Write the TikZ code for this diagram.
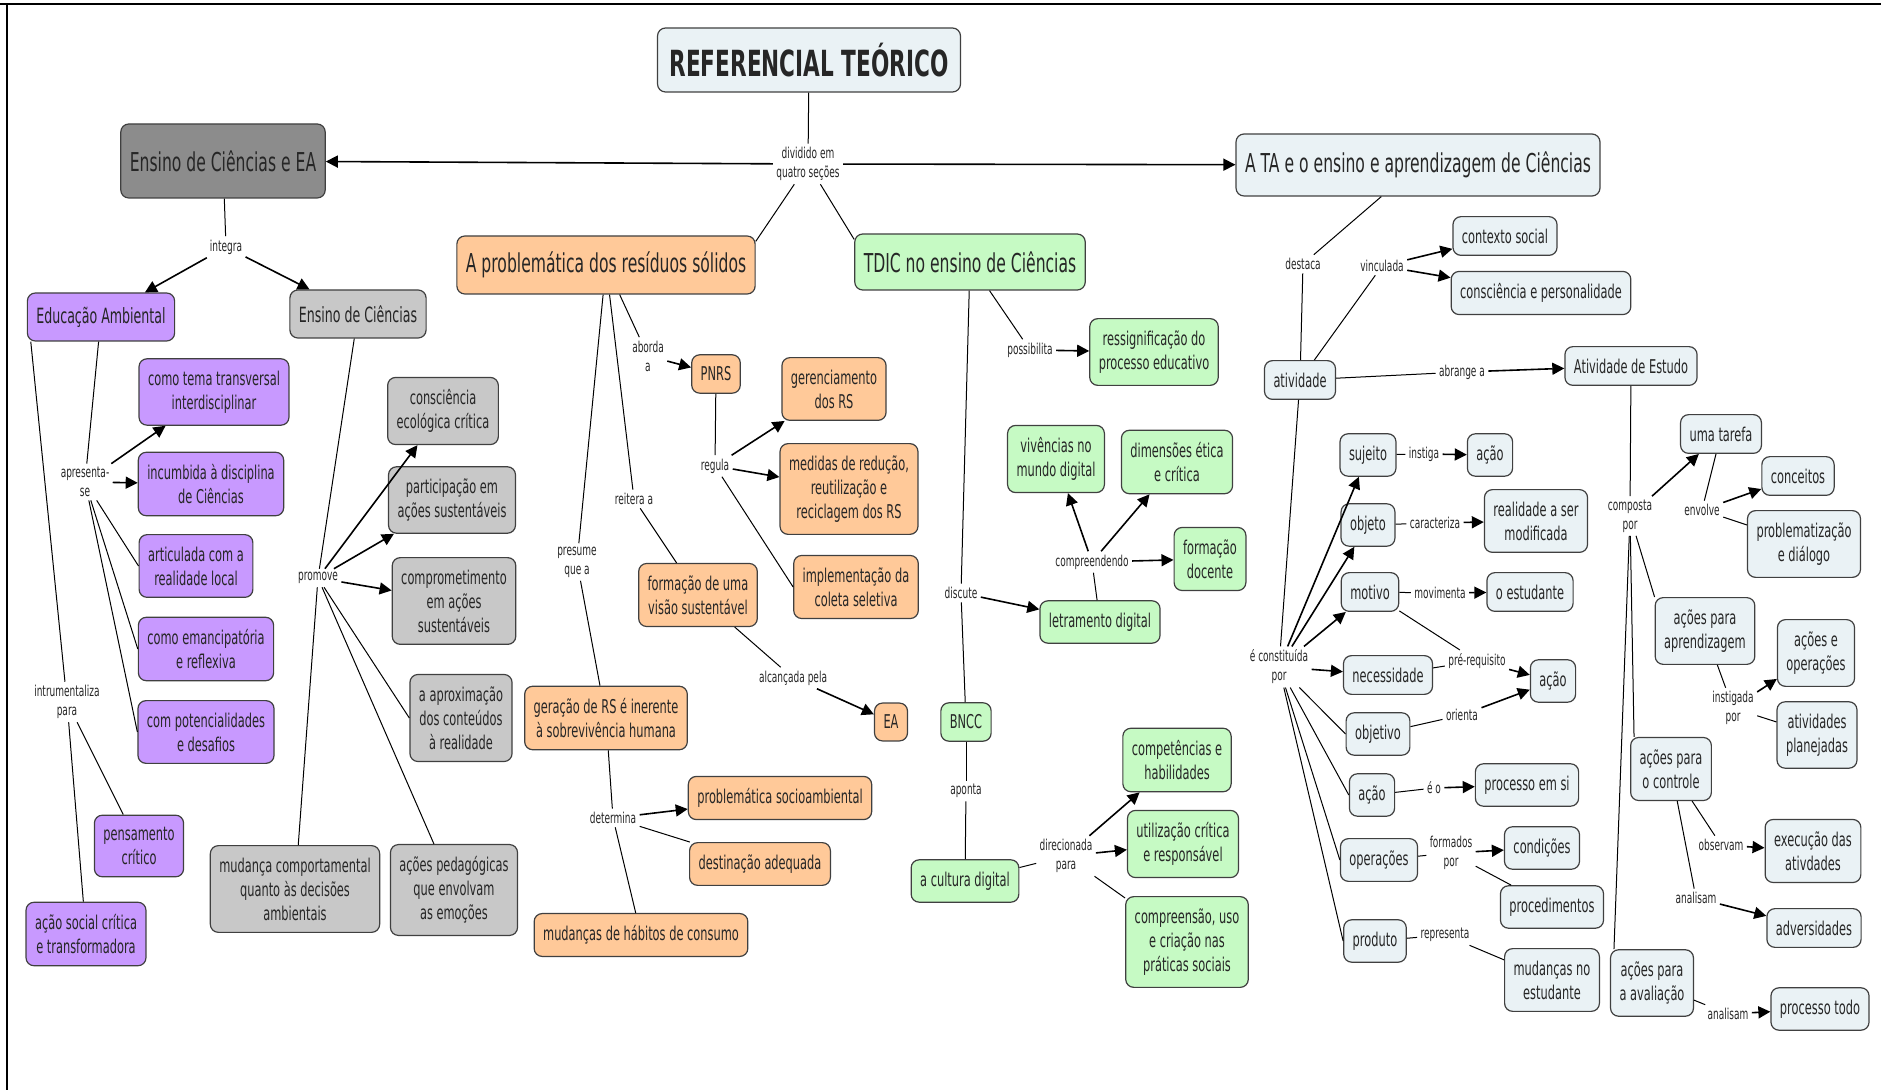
\documentclass[tikz,border=0pt]{standalone}
\usepackage{fontspec}
\setmainfont{DejaVu Sans}[FakeStretch=0.6]
\usetikzlibrary{arrows.meta}
\definecolor{cblue}{RGB}{234,242,245}
\definecolor{cdgray}{RGB}{140,140,140}
\definecolor{cgray}{RGB}{200,200,200}
\definecolor{cpurple}{RGB}{200,153,255}
\definecolor{corange}{RGB}{255,201,153}
\definecolor{cgreen}{RGB}{198,250,196}
\tikzstyle{concept}=[draw=black!75, line width=0.6pt, rounded corners=4pt, align=center,
    inner xsep=4.5pt, inner ysep=6pt, text=black!85, font=\fontsize{9.5}{12}\selectfont]
\tikzstyle{concept_blue}=[concept, fill=cblue]
\tikzstyle{concept_dgray}=[concept, fill=cdgray]
\tikzstyle{concept_gray}=[concept, fill=cgray]
\tikzstyle{concept_purple}=[concept, fill=cpurple]
\tikzstyle{concept_orange}=[concept, fill=corange]
\tikzstyle{concept_green}=[concept, fill=cgreen]
\tikzstyle{section}=[font=\fontsize{13}{15}\selectfont, minimum height=31pt]
\tikzstyle{subsection}=[font=\fontsize{10.5}{12}\selectfont, minimum height=24pt]
\tikzstyle{link_label}=[align=center, inner sep=1.5pt, text=black!85, font=\fontsize{7.5}{9.5}\selectfont]
\tikzstyle{link_to}=[-{Triangle[length=6pt,width=6pt]}, line width=0.8pt]

\begin{document}
\begin{tikzpicture}[x=0.5pt, y=-0.5pt, line width=0.5pt]
\useasboundingbox (0,0) rectangle (1881,1090);
\draw[line width=1.2pt] (0,4) -- (1881,4);
\draw[line width=1.2pt] (7,4) -- (7,1090);

\node[concept_blue, font=\bfseries\fontsize{18}{20}\selectfont, minimum height=32pt, inner xsep=6pt] (ref) at (809,60) {REFERENCIAL TEÓRICO};
\node[link_label] (div) at (808,164) {dividido em\\quatro seções};
\node[concept_dgray, section, minimum height=37pt] (ensea) at (223,161) {Ensino de Ciências e EA};
\node[concept_blue, section] (ata) at (1418,165) {A TA e o ensino e aprendizagem de Ciências};
\node[concept_orange, section, minimum height=29pt] (prob) at (606,265) {A problemática dos resíduos sólidos};
\node[concept_green, section, minimum height=28pt] (tdic) at (970,262) {TDIC no ensino de Ciências};
\draw[](ref) -- (div);
\draw[link_to](div) -- (ensea);
\draw[link_to](div) -- (ata);
\draw[](div) -- ([yshift=-3pt]prob.north east);
\draw[](div) -- ([yshift=-3pt]tdic.north west);

\node[link_label] (integra) at (226,247) {integra};
\node[concept_purple, subsection] (edamb) at (101,317) {Educação Ambiental};
\node[concept_gray, subsection] (enscien) at (358,314) {Ensino de Ciências};
\node[link_label] (apres) at (85,482) {apresenta-\\se};
\node[concept_purple] (tema) at (214,392) {como tema transversal\\interdisciplinar};
\node[concept_purple] (incumb) at (211,484) {incumbida à disciplina\\de Ciências};
\node[concept_purple] (artic) at (196,566) {articulada com a\\realidade local};
\node[concept_purple] (emanc) at (206,649) {como emancipatória\\e reflexiva};
\node[concept_purple] (potenc) at (206,732) {com potencialidades\\e desafios};
\node[link_label] (instr) at (67,702) {intrumentaliza\\para};
\node[concept_purple] (pens) at (139,846) {pensamento\\crítico};
\node[concept_purple] (acaosoc) at (86,934) {ação social crítica\\e transformadora};
\node[link_label] (promove) at (318,578) {promove};
\node[concept_gray] (consc) at (443,411) {consciência\\ecológica crítica};
\node[concept_gray] (partic) at (452,500) {participação em\\ações sustentáveis};
\node[concept_gray] (compr) at (454,601) {comprometimento\\em ações\\sustentáveis};
\node[concept_gray] (aprox) at (461,718) {a aproximação\\dos conteúdos\\à realidade};
\node[concept_gray] (mudcomp) at (295,889) {mudança comportamental\\quanto às decisões\\ambientais};
\node[concept_gray] (acped) at (454,890) {ações pedagógicas\\que envolvam\\as emoções};
\draw[](ensea) -- (integra);
\draw[link_to](integra) -- (edamb);
\draw[link_to](integra) -- (enscien);
\draw[](edamb) -- (apres);
\draw[link_to](apres) -- (tema);
\draw[link_to](apres) -- (incumb);
\draw[](apres) -- (artic.west);
\draw[](apres) -- (emanc.west);
\draw[](apres) -- (potenc.west);
\draw[]([xshift=2pt]edamb.south west) -- (instr);
\draw[](instr) -- (pens);
\draw[](instr) -- (acaosoc);
\draw[](enscien) -- (promove);
\draw[link_to](promove) -- (consc);
\draw[link_to](promove) -- (partic);
\draw[link_to](promove) -- (compr);
\draw[](promove) -- (aprox.west);
\draw[](promove) -- (mudcomp);
\draw[](promove) -- (acped);

\node[link_label] (aborda) at (648,356) {aborda\\a};
\node[concept_orange] (pnrs) at (716,374) {PNRS};
\node[link_label] (regula) at (715,466) {regula};
\node[concept_orange] (geren) at (834,389) {gerenciamento\\dos RS};
\node[concept_orange] (medid) at (849,489) {medidas de redução,\\reutilização e\\reciclagem dos RS};
\node[concept_orange] (impl) at (856,587) {implementação da\\coleta seletiva};
\node[link_label] (reitera) at (634,499) {reitera a};
\node[concept_orange] (formvis) at (698,595) {formação de uma\\visão sustentável};
\node[link_label] (alcanc) at (793,678) {alcançada pela};
\node[concept_orange] (ea) at (891,722) {EA};
\node[link_label] (presume) at (577,562) {presume\\que a};
\node[concept_orange] (geracao) at (606,718) {geração de RS é inerente\\à sobrevivência humana};
\node[link_label] (determ) at (613,818) {determina};
\node[concept_orange] (probsoc) at (780,798) {problemática socioambiental};
\node[concept_orange] (destin) at (760,864) {destinação adequada};
\node[concept_orange] (habitos) at (641,935) {mudanças de hábitos de consumo};
\draw[](prob) -- (aborda);
\draw[link_to](aborda) -- (pnrs);
\draw[](pnrs) -- (regula);
\draw[link_to](regula) -- (geren);
\draw[link_to](regula) -- (medid);
\draw[](regula) -- (impl.west);
\draw[](prob) -- (reitera);
\draw[](reitera) -- (formvis);
\draw[](formvis) -- (alcanc);
\draw[link_to](alcanc) -- (ea);
\draw[](prob) -- (presume);
\draw[](presume) -- (geracao);
\draw[](geracao) -- (determ);
\draw[link_to](determ) -- (probsoc);
\draw[](determ) -- (destin);
\draw[](determ) -- (habitos);

\node[link_label] (possib) at (1030,350) {possibilita};
\node[concept_green] (ressig) at (1154,352) {ressignificação do\\processo educativo};
\node[concept_green] (vivenc) at (1056,459) {vivências no\\mundo digital};
\node[concept_green] (dimens) at (1177,462) {dimensões ética\\e crítica};
\node[concept_green] (formdoc) at (1210,559) {formação\\docente};
\node[link_label] (compreend) at (1092,562) {compreendendo};
\node[concept_green] (letram) at (1100,622) {letramento digital};
\node[link_label] (discute) at (961,593) {discute};
\node[concept_green] (bncc) at (966,722) {BNCC};
\node[link_label] (aponta) at (966,791) {aponta};
\node[concept_green] (cultura) at (965,881) {a cultura digital};
\node[link_label] (direc) at (1066,856) {direcionada\\para};
\node[concept_green] (compet) at (1177,760) {competências e\\habilidades};
\node[concept_green] (utiliz) at (1183,844) {utilização crítica\\e responsável};
\node[concept_green] (compuso) at (1187,942) {compreensão, uso\\e criação nas\\práticas sociais};
\draw[](tdic) -- (possib);
\draw[link_to](possib) -- (ressig);
\draw[](tdic) -- (discute);
\draw[link_to](discute) -- (letram);
\draw[](discute) -- (bncc);
\draw[](letram) -- (compreend);
\draw[link_to](compreend) -- (vivenc);
\draw[link_to](compreend) -- (dimens);
\draw[link_to](compreend) -- (formdoc);
\draw[](bncc) -- (aponta);
\draw[](aponta) -- (cultura);
\draw[](cultura) -- (direc);
\draw[link_to](direc) -- (compet);
\draw[link_to](direc) -- (utiliz);
\draw[](direc) -- (compuso);

\node[link_label] (destaca) at (1303,264) {destaca};
\node[concept_blue] (ativ) at (1300,380) {atividade};
\node[link_label] (vincul) at (1382,266) {vinculada};
\node[concept_blue] (contexto) at (1505,236) {contexto social};
\node[concept_blue] (conspers) at (1541,293) {consciência e personalidade};
\node[link_label] (abrange) at (1462,372) {abrange a};
\node[concept_blue] (atest) at (1631,366) {Atividade de Estudo};
\node[link_label] (constit) at (1279,667) {é constituída\\por};
\node[concept_blue] (sujeito) at (1368,455) {sujeito};
\node[link_label] (instiga) at (1424,454) {instiga};
\node[concept_blue] (acaoa) at (1490,455) {ação};
\node[concept_blue] (objeto) at (1368,525) {objeto};
\node[link_label] (caract) at (1435,523) {caracteriza};
\node[concept_blue] (realid) at (1536,521) {realidade a ser\\modificada};
\node[concept_blue] (motivo) at (1370,592) {motivo};
\node[link_label] (movim) at (1440,593) {movimenta};
\node[concept_blue] (estud) at (1530,592) {o estudante};
\node[concept_blue] (necess) at (1388,675) {necessidade};
\node[link_label] (prereq) at (1477,661) {pré-requisito};
\node[concept_blue] (acaob) at (1553,681) {ação};
\node[concept_blue] (objetivo) at (1378,734) {objetivo};
\node[link_label] (orienta) at (1462,715) {orienta};
\node[concept_blue] (acaoc) at (1372,795) {ação};
\node[link_label] (eo) at (1434,788) {é o};
\node[concept_blue] (procsi) at (1527,785) {processo em si};
\node[concept_blue] (operac) at (1379,860) {operações};
\node[link_label] (formados) at (1451,853) {formados\\por};
\node[concept_blue] (condic) at (1542,848) {condições};
\node[concept_blue] (proced) at (1552,907) {procedimentos};
\node[concept_blue] (produto) at (1375,941) {produto};
\node[link_label] (repres) at (1445,935) {representa};
\node[concept_blue] (mudest) at (1552,980) {mudanças no\\estudante};
\draw[](ata) -- (destaca);
\draw[](destaca) -- (ativ);
\draw[](ativ) -- (vincul);
\draw[link_to](vincul) -- (contexto);
\draw[link_to](vincul) -- (conspers);
\draw[](ativ) -- (abrange);
\draw[link_to](abrange) -- (atest);
\draw[](ativ) -- (constit);
\draw[link_to](constit) -- (sujeito);
\draw[link_to](constit) -- (objeto);
\draw[link_to](constit) -- (motivo);
\draw[link_to](constit) -- (necess);
\draw[](constit) -- (objetivo.west);
\draw[](constit) -- (acaoc.west);
\draw[](constit) -- (operac.west);
\draw[](constit) -- (produto.west);
\draw[](sujeito) -- (instiga);
\draw[link_to](instiga) -- (acaoa);
\draw[](objeto) -- (caract);
\draw[link_to](caract) -- (realid);
\draw[](motivo) -- (movim);
\draw[link_to](movim) -- (estud);
\draw[](motivo) -- (prereq);
\draw[](necess) -- (prereq);
\draw[link_to](prereq) -- (acaob);
\draw[](objetivo) -- (orienta);
\draw[link_to](orienta) -- (acaob);
\draw[](acaoc) -- (eo);
\draw[link_to](eo) -- (procsi);
\draw[](operac) -- (formados);
\draw[link_to](formados) -- (condic);
\draw[](formados) -- (proced);
\draw[](produto) -- (repres);
\draw[](repres) -- (mudest);

\node[link_label] (composta) at (1630,516) {composta\\por};
\node[concept_blue] (tarefa) at (1721,434) {uma tarefa};
\node[link_label] (envolve) at (1702,510) {envolve};
\node[concept_blue] (conceitos) at (1798,476) {conceitos};
\node[concept_blue] (problem) at (1804,544) {problematização\\e diálogo};
\node[concept_blue] (acaprend) at (1705,631) {ações para\\aprendizagem};
\node[link_label] (instigada) at (1733,708) {instigada\\por};
\node[concept_blue] (acoper) at (1816,653) {ações e\\operações};
\node[concept_blue] (ativplan) at (1817,735) {atividades\\planejadas};
\node[concept_blue] (accontr) at (1671,769) {ações para\\o controle};
\node[link_label] (observam) at (1721,845) {observam};
\node[concept_blue] (execuc) at (1813,851) {execução das\\ativdades};
\node[link_label] (analisa) at (1696,898) {analisam};
\node[concept_blue] (advers) at (1814,928) {adversidades};
\node[concept_blue] (acaval) at (1652,983) {ações para\\a avaliação};
\node[link_label] (analisb) at (1728,1014) {analisam};
\node[concept_blue] (proctodo) at (1820,1009) {processo todo};
\draw[](atest) -- (composta);
\draw[link_to](composta) -- (tarefa);
\draw[](composta) -- (acaprend.north west);
\draw[](composta) -- ([xshift=2pt]accontr.north west);
\draw[](composta) -- ([xshift=2pt]acaval.north west);
\draw[](tarefa) -- (envolve);
\draw[link_to](envolve) -- (conceitos);
\draw[](envolve) -- (problem);
\draw[](acaprend) -- (instigada);
\draw[link_to](instigada) -- (acoper);
\draw[](instigada) -- (ativplan);
\draw[](accontr) -- (observam);
\draw[link_to](observam) -- (execuc);
\draw[](accontr) -- (analisa);
\draw[link_to](analisa) -- (advers);
\draw[](acaval) -- (analisb);
\draw[link_to](analisb) -- (proctodo);
\end{tikzpicture}
\end{document}
